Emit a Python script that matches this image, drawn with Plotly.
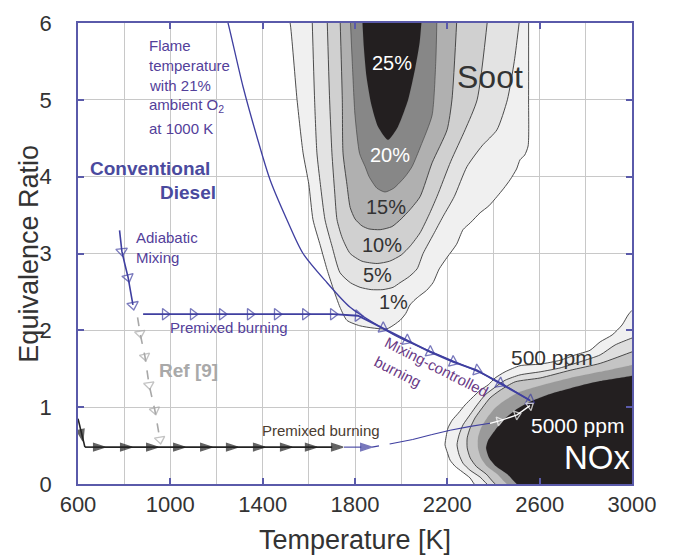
import plotly.graph_objects as go

# ---------------- axis ticks ----------------
x_tick_vals = [600, 1000, 1400, 1800, 2200, 2600, 3000]
x_tick_text = ["600", "1000", "1400", "1800", "2200", "2600", "3000"]
y_tick_vals = [0, 1, 2, 3, 4, 5, 6]
y_tick_text = ["0", "1", "2", "3", "4", "5", "6"]

# ---------------- soot contours (T [K], equivalence ratio) ----------------
soot_labels = ["1%", "5%", "10%", "15%", "20%", "25%"]
soot1_T = [1510, 1519, 1549, 1575, 1600, 1618, 1650, 1679, 1705, 1735, 1765, 1820, 1878, 1939,
           1995, 2020, 2038, 2060, 2080, 2110, 2138, 2165, 2199, 2240, 2268, 2300, 2342, 2380,
           2415, 2445, 2472, 2500, 2515, 2535, 2550, 2552, 2552]
soot1_phi = [6.1, 6.0, 5.0, 4.31, 3.9, 3.44, 3.1, 2.79, 2.55, 2.30, 2.13, 2.06, 2.03, 2.02,
             2.13, 2.22, 2.33, 2.40, 2.45, 2.52, 2.62, 2.80, 2.95, 3.12, 3.31, 3.40, 3.53, 3.62,
             3.74, 3.85, 3.96, 4.10, 4.22, 4.28, 4.40, 5.0, 6.1]
soot5_T = [1614, 1625, 1635, 1650, 1670, 1700, 1735, 1780, 1822, 1870, 1921, 1965, 1995, 2035,
           2069, 2095, 2140, 2181, 2230, 2285, 2350, 2415, 2460, 2490, 2515]
soot5_phi = [6.1, 5.0, 4.31, 3.9, 3.44, 3.1, 2.75, 2.62, 2.56, 2.53, 2.53, 2.56, 2.62, 2.70,
             2.80, 3.0, 3.25, 3.48, 3.74, 4.13, 4.40, 4.61, 5.0, 5.5, 6.1]
soot10_T = [1679, 1690, 1700, 1712, 1722, 1745, 1779, 1830, 1896, 1950, 2000, 2040, 2082, 2120,
            2155, 2215, 2277, 2329, 2376]
soot10_phi = [6.1, 5.0, 4.31, 3.8, 3.44, 3.2, 3.0, 2.9, 2.87, 2.9, 2.98, 3.1, 3.27, 3.5,
              3.74, 4.2, 4.61, 5.0, 6.1]
soot15_T = [1735, 1745, 1748, 1765, 1779, 1800, 1830, 1860, 1909, 1960, 2000, 2038, 2082, 2134,
            2199, 2220, 2242]
soot15_phi = [6.1, 5.0, 4.31, 3.9, 3.6, 3.45, 3.36, 3.32, 3.31, 3.35, 3.45, 3.57, 3.74, 4.18,
              4.61, 5.0, 6.1]
soot20_T = [1779, 1788, 1800, 1820, 1844, 1861, 1895, 1930, 1968, 2017, 2047, 2085, 2134, 2150, 2155]
soot20_phi = [6.1, 5.5, 4.8, 4.3, 4.13, 4.0, 3.85, 3.80, 3.85, 4.0, 4.13, 4.4, 4.8, 5.5, 6.1]
soot25_T = [1831, 1838, 1850, 1870, 1900, 1943, 1986, 2030, 2060, 2080, 2090]
soot25_phi = [6.1, 5.7, 5.3, 4.95, 4.65, 4.48, 4.65, 5.0, 5.4, 5.75, 6.1]

# ---------------- NOx contours ----------------
nox1_T = [3020, 3000, 2983, 2957, 2914, 2862, 2818, 2754, 2688, 2602, 2515, 2450, 2407, 2377,
          2342, 2307, 2277, 2247, 2221, 2203, 2195, 2190, 2199, 2212, 2234, 2264, 2298, 2333, 3020]
nox1_phi = [2.3, 2.26, 2.20, 2.07, 1.94, 1.85, 1.74, 1.68, 1.61, 1.56, 1.54, 1.46, 1.38, 1.29,
            1.22, 1.12, 1.03, 0.92, 0.83, 0.73, 0.62, 0.51, 0.42, 0.31, 0.23, 0.16, 0.08, -0.05, -0.05]
nox2_T = [3020, 3000, 2927, 2862, 2775, 2688, 2602, 2515, 2450, 2407, 2364, 2329, 2298, 2268,
          2251, 2242, 2251, 2268, 2298, 2342, 2394, 3020]
nox2_phi = [1.92, 1.90, 1.81, 1.68, 1.59, 1.51, 1.46, 1.42, 1.35, 1.26, 1.16, 1.03, 0.90, 0.77,
            0.64, 0.51, 0.38, 0.27, 0.18, 0.09, -0.05, -0.05]
nox3_T = [3020, 3000, 2862, 2732, 2602, 2494, 2429, 2385, 2351, 2320, 2299, 2286, 2286, 2299,
          2325, 2368, 2429, 3020]
nox3_phi = [1.74, 1.72, 1.57, 1.48, 1.38, 1.33, 1.22, 1.12, 0.99, 0.86, 0.73, 0.60, 0.47, 0.34,
            0.23, 0.13, -0.05, -0.05]
nox4_T = [3020, 3000, 2862, 2732, 2602, 2515, 2450, 2407, 2372, 2346, 2333, 2333, 2346, 2372,
          2416, 2481, 3020]
nox4_phi = [1.57, 1.55, 1.46, 1.38, 1.28, 1.20, 1.09, 0.99, 0.86, 0.73, 0.60, 0.47, 0.34, 0.23,
            0.13, -0.05, -0.05]
nox5_T = [3020, 3000, 2862, 2775, 2688, 2624, 2558, 2494, 2442, 2407, 2377, 2368, 2381, 2411,
          2459, 2524, 3020]
nox5_phi = [1.43, 1.41, 1.34, 1.28, 1.21, 1.15, 1.07, 0.96, 0.83, 0.70, 0.57, 0.47, 0.34, 0.23,
            0.13, -0.05, -0.05]

# ---------------- process paths ----------------
flame_T = [1240, 1250, 1315, 1375, 1432, 1505, 1575, 1679, 1779, 1895, 1995, 2100, 2225, 2329, 2428, 2560]
flame_phi = [6.1, 6.0, 5.17, 4.52, 3.96, 3.44, 3.0, 2.62, 2.30, 2.07, 1.90, 1.76, 1.60, 1.47, 1.32, 1.08]

adiab_T = [780, 790, 803, 817, 828, 838]
adiab_phi = [3.30, 3.03, 2.86, 2.69, 2.50, 2.33]
adiab_arrow = [0, 1, 0, 1, 0, 1]

premix_T = [882, 977, 1098, 1224, 1345, 1462, 1584, 1705, 1813, 1921, 2025, 2125, 2225, 2329, 2428, 2558]
premix_phi = [2.21, 2.21, 2.21, 2.21, 2.21, 2.21, 2.21, 2.21, 2.19, 2.03, 1.87, 1.72, 1.59, 1.48, 1.31, 1.09]
premix_arrow = [0, 1, 1, 1, 1, 1, 1, 1, 1, 1, 1, 1, 1, 1, 1, 1]

ref9_T = [858, 869, 890, 908, 933, 955]
ref9_phi = [2.17, 1.96, 1.66, 1.29, 0.96, 0.58]
ref9_arrow = [0, 1, 1, 1, 1, 1]

low_T = [600, 621, 630, 717, 834, 947, 1064, 1181, 1293, 1410, 1527, 1635, 1748]
low_phi = [0.85, 0.56, 0.48, 0.48, 0.48, 0.48, 0.48, 0.48, 0.48, 0.48, 0.48, 0.48, 0.48]
low_arrow = [0, 1, 0, 1, 1, 1, 1, 1, 1, 1, 1, 1, 1]

lowblue_T = [1752, 1874, 1950, 2050, 2130, 2212, 2300, 2385]
lowblue_phi = [0.48, 0.48, 0.52, 0.58, 0.64, 0.70, 0.75, 0.79]
lowblue_arrow = [0, 1, 0, 0, 0, 0, 0, 0]

white_T = [2385, 2425, 2502, 2558]
white_phi = [0.79, 0.82, 0.90, 1.02]
white_arrow = [0, 1, 1, 1]

# ---------------- styling ----------------
FONT = "Liberation Sans, Arial, sans-serif"
BLUE = "#3f3fa0"
AXIS = "#5a5aaa"
GRID = "#c8c8c8"
TXT = "#333333"
PURPLE = "#53409a"
OUT = "#3a3a3a"

fig = go.Figure()


def poly(T, phi, fill, line_w=0.9):
    fig.add_trace(go.Scatter(
        x=T, y=phi, mode="lines", fill="toself", fillcolor=fill,
        line=dict(color=OUT if line_w > 0 else fill, width=max(line_w, 0.1), shape="spline", smoothing=0.6),
        hoverinfo="skip", showlegend=False))


poly(soot1_T, soot1_phi, "#f0f0f0")
poly(soot5_T, soot5_phi, "#e3e3e3")
poly(soot10_T, soot10_phi, "#d0d0d0")
poly(soot15_T, soot15_phi, "#b0b0b0")
poly(soot20_T, soot20_phi, "#878787", 0.6)
poly(soot25_T, soot25_phi, "#231f20", 0)

poly(nox1_T, nox1_phi, "#f0f0f0")
poly(nox2_T, nox2_phi, "#dedede")
poly(nox3_T, nox3_phi, "#c4c4c4")
poly(nox4_T, nox4_phi, "#9a9a9a", 0)
poly(nox5_T, nox5_phi, "#231f20", 0)


def path(T, phi, arrows, color, width, symbol, size, dash="solid", lw=1.3, backoff=None):
    line = dict(color=color, width=width, dash=dash)
    if backoff is not None:
        line["backoff"] = backoff
    fig.add_trace(go.Scatter(
        x=T, y=phi, mode="lines+markers",
        line=line,
        marker=dict(symbol=symbol, size=[size if a else 0 for a in arrows],
                    angleref="previous", color=color,
                    line=dict(color=color, width=lw)),
        hoverinfo="skip", showlegend=False))


fig.add_trace(go.Scatter(x=flame_T, y=flame_phi, mode="lines",
                         line=dict(color=BLUE, width=1.3, shape="spline", smoothing=0.8),
                         hoverinfo="skip", showlegend=False))
path(ref9_T, ref9_phi, ref9_arrow, "#a8a8a8", 1.6, "triangle-up-open", 9, dash="dash", backoff=0)
path(adiab_T, adiab_phi, adiab_arrow, BLUE, 1.6, "triangle-up-open", 10, backoff=0)
path(premix_T, premix_phi, premix_arrow, BLUE, 1.8, "triangle-up-open", 10, backoff=0)
path(low_T, low_phi, low_arrow, "#222222", 1.6, "arrow", 12)
path(lowblue_T, lowblue_phi, lowblue_arrow, BLUE, 1.1, "arrow", 12)
path(white_T, white_phi, white_arrow, "#ffffff", 1.3, "triangle-up-open", 8, backoff=0)

# ---------------- annotations ----------------
ann = []


def txt(s, x, y, size, color, xanchor="center", angle=0, bold=False):
    ann.append(dict(text=("<b>%s</b>" % s) if bold else s, x=x, y=y, xref="x", yref="y",
                    xanchor=xanchor, yanchor="middle", showarrow=False, textangle=angle,
                    font=dict(family=FONT, size=size, color=color)))


for s, y in zip(["Flame", "temperature", "with 21%", "ambient O<sub>2</sub>", "at 1000 K"],
                [5.71, 5.45, 5.19, 4.92, 4.63]):
    txt(s, 899, y, 15, PURPLE, xanchor="left")
txt("Conventional", 643, 4.11, 19, "#4a4a9e", xanchor="left", bold=True)
txt("Diesel", 1207, 3.79, 19, "#4a4a9e", xanchor="right", bold=True)
txt("Adiabatic", 843, 3.21, 15, PURPLE, xanchor="left")
txt("Mixing", 843, 2.95, 15, PURPLE, xanchor="left")
txt("Premixed burning", 990, 2.04, 15, PURPLE, xanchor="left")
txt("Ref [9]", 942, 1.48, 19, "#a9a9a9", xanchor="left", bold=True)
txt("Premixed burning", 1389, 0.69, 15, "#4a3c30", xanchor="left")
txt("Mixing-controlled", 2151, 1.53, 15, "#6a3a86", angle=27)
txt("burning", 1985, 1.47, 15, "#6a3a86", angle=27)

for s, x, y, c in zip(soot_labels[::-1], [1961, 1952, 1935, 1917, 1896, 1965],
                      [5.48, 4.28, 3.61, 3.11, 2.72, 2.37],
                      ["#ffffff", "#ffffff", TXT, TXT, TXT, TXT]):
    txt(s, x, y, 20, c)
txt("Soot", 2385, 5.30, 32, TXT)
txt("500 ppm", 2654, 1.64, 21, TXT)
txt("5000 ppm", 2766, 0.76, 21, "#ffffff")
txt("NOx", 2850, 0.34, 33, "#ffffff")

ann.append(dict(text="Temperature [K]", x=0.5, y=-0.122, xref="paper", yref="paper",
                xanchor="center", yanchor="middle", showarrow=False,
                font=dict(family=FONT, size=27, color=TXT)))
ann.append(dict(text="Equivalence Ratio", x=-0.09, y=0.5, xref="paper", yref="paper",
                xanchor="center", yanchor="middle", showarrow=False, textangle=-90,
                font=dict(family=FONT, size=27, color=TXT)))

# the page body adds an 8px offset, so the figure is 8px smaller and margins shifted
fig.update_layout(
    width=670, height=547,
    margin=dict(l=70, r=46, t=15, b=71, autoexpand=False),
    paper_bgcolor="white", plot_bgcolor="white",
    showlegend=False,
    annotations=ann,
    xaxis=dict(range=[600, 3000], tickvals=x_tick_vals, ticktext=x_tick_text,
               automargin=False,
               ticks="inside", ticklen=6, tickwidth=1.5, tickcolor=AXIS,
               showline=True, linecolor=AXIS, linewidth=1.8, mirror="ticks",
               showgrid=True, gridcolor=GRID, gridwidth=1,
               minor=dict(dtick=200, tick0=600, showgrid=True, gridcolor=GRID, gridwidth=1, ticks=""),
               zeroline=False, tickfont=dict(family=FONT, size=22, color=TXT)),
    yaxis=dict(range=[0, 6], tickvals=y_tick_vals, ticktext=y_tick_text,
               automargin=False,
               ticks="inside", ticklen=6, tickwidth=1.5, tickcolor=AXIS,
               showline=True, linecolor=AXIS, linewidth=1.8, mirror="ticks",
               showgrid=True, gridcolor=GRID, gridwidth=1, zeroline=False,
               ticklabelstandoff=20,
               tickfont=dict(family=FONT, size=22, color=TXT)),
)

fig.write_html("out.html")
